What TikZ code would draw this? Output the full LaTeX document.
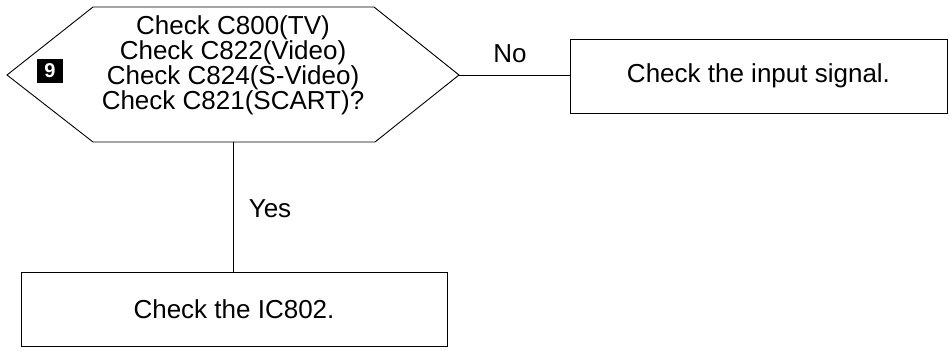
\documentclass[tikz,border=0pt]{standalone}
\usepackage{fontspec}
\setmainfont{Liberation Sans}
\begin{document}
\begin{tikzpicture}[x=1pt,y=-1pt,
  line width=0.9pt,
  txt/.style={font=\fontsize{26}{25}\selectfont, inner sep=0pt, align=center},
  procbox/.style={draw, line width=0.9pt, minimum width=#1, minimum height=74pt, inner sep=0pt, font=\fontsize{26}{26}\selectfont},
  badge/.style={fill=black, text=white, font=\bfseries\fontsize{20}{20}\selectfont, minimum width=26pt, minimum height=24pt, inner sep=0pt}
]
\useasboundingbox (0,0) rectangle (951,354);
% decision hexagon
\coordinate (hl) at (7,75);
\coordinate (htl) at (93,7);
\coordinate (htr) at (374,7);
\coordinate (hr) at (459,75);
\coordinate (hbr) at (375,142);
\coordinate (hbl) at (93,142);
\coordinate (hb) at (233,142);
\draw (hl) -- (htl) -- (htr) -- (hr) -- (hbr) -- (hbl) -- cycle;
\node[txt] (dec) at (233,65) {Check C800(TV)\\Check C822(Video)\\Check C824(S-Video)\\Check C821(SCART)?};
\node[badge] (num) at (50,71) {9};
% boxes
\node[procbox=377pt] (inp) at (758.5,76) {Check the input signal.};
\node[procbox=426pt] (ic) at (234,309) {Check the IC802.};
% connectors
\draw (hr) -- (hr -| inp.west);
\draw (hb) -- (hb |- ic.north);
% labels
\node[txt, anchor=base] (no) at (510,62) {No};
\node[txt, anchor=base] (yes) at (270,217) {Yes};
\end{tikzpicture}
\end{document}
